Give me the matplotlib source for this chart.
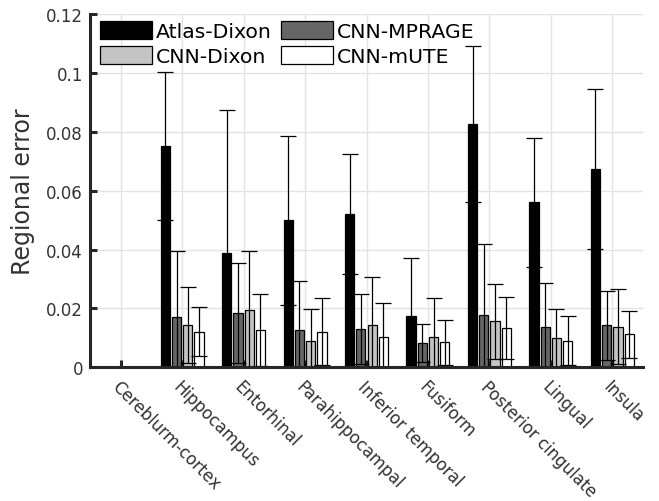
import numpy as np
import matplotlib
matplotlib.use("Agg")
import matplotlib.pyplot as plt
from matplotlib.patches import Patch

# regions and per-method mean / std of regional error
regions = ["Cereblurm-cortex", "Hippocampus", "Entorhinal", "Parahippocampal",
           "Inferior temporal", "Fusiform", "Posterior cingulate", "Lingual", "Insula"]
methods = ["Atlas-Dixon", "CNN-MPRAGE", "CNN-Dixon", "CNN-mUTE"]

atlas_dixon = [0.0, 0.0753, 0.0388, 0.0499, 0.0521, 0.0173, 0.0826, 0.0560, 0.0674]
cnn_mprage = [0.0, 0.0170, 0.0183, 0.0126, 0.0130, 0.0082, 0.0178, 0.0138, 0.0143]
cnn_dixon = [0.0, 0.0144, 0.0195, 0.0090, 0.0144, 0.0103, 0.0156, 0.0098, 0.0138]
cnn_mute = [0.0, 0.0121, 0.0126, 0.0121, 0.0103, 0.0085, 0.0133, 0.0090, 0.0112]

atlas_dixon_sd = [0.0, 0.0251, 0.0486, 0.0288, 0.0204, 0.0197, 0.0266, 0.0218, 0.0271]
cnn_mprage_sd = [0.0, 0.0226, 0.0170, 0.0166, 0.0118, 0.0064, 0.0241, 0.0149, 0.0117]
cnn_dixon_sd = [0.0, 0.0130, 0.0201, 0.0108, 0.0164, 0.0131, 0.0128, 0.0101, 0.0127]
cnn_mute_sd = [0.0, 0.0083, 0.0122, 0.0113, 0.0114, 0.0076, 0.0106, 0.0083, 0.0079]

yticks = [0, 0.02, 0.04, 0.06, 0.08, 0.1, 0.12]
ytick_labels = ["0", "0.02", "0.04", "0.06", "0.08", "0.1", "0.12"]

means = [atlas_dixon, cnn_mprage, cnn_dixon, cnn_mute]
sds = [atlas_dixon_sd, cnn_mprage_sd, cnn_dixon_sd, cnn_mute_sd]
colors = ["#000000", "#666666", "#c4c4c4", "#ffffff"]

dark = "#262626"
plt.rcParams["font.family"] = "DejaVu Sans"

fig = plt.figure(figsize=(6.59, 5.02), dpi=100)
ax = fig.add_axes([90 / 659, 1 - 368.3 / 502, 553 / 659, 353.3 / 502])

x = np.arange(1, len(regions) + 1)
slot = 0.183
width = 0.15
for i in range(4):
    pos = x + (i - 1.5) * slot
    # no edge on zero-height bars (cortex is the reference region)
    lw = [0.9 if m > 0 else 0 for m in means[i]]
    ax.bar(pos, means[i], width, color=colors[i], edgecolor="black",
           linewidth=lw, zorder=2)
    ax.errorbar(pos, means[i], yerr=sds[i], fmt="none", ecolor="black",
                elinewidth=0.9, capsize=6, capthick=0.9, zorder=3)

ax.set_xlim(0.5, 9.5)
ax.set_ylim(0, 0.12)
ax.set_yticks(yticks)
ax.set_yticklabels(ytick_labels)
ax.set_xticks(x)
ax.set_xticklabels(regions, rotation=-45, ha="left", va="top",
                   rotation_mode="anchor")

ax.set_axisbelow(True)
ax.grid(True, color="#e3e3e3", linewidth=1.0)

for s in ["top", "right"]:
    ax.spines[s].set_visible(False)
for s in ["left", "bottom"]:
    ax.spines[s].set_linewidth(2.2)
    ax.spines[s].set_color(dark)
    ax.spines[s].set_zorder(4)

ax.tick_params(axis="both", direction="in", colors=dark, labelsize=12,
               width=2.2, length=5)
ax.tick_params(axis="y", pad=5)
ax.tick_params(axis="x", pad=7)
for lbl in ax.get_xticklabels() + ax.get_yticklabels():
    lbl.set_color("#333333")

ax.set_ylabel("Regional error", fontsize=17, color="#333333", labelpad=8)

# row-wise legend order like the original
order = [0, 2, 1, 3]
handles = [Patch(facecolor=colors[k], edgecolor="black", linewidth=0.9) for k in order]
ax.legend(handles, [methods[k] for k in order],
          loc="upper left", bbox_to_anchor=(0.018, 0.981), ncol=2,
          frameon=False, fontsize=14.7, borderpad=0, borderaxespad=0,
          handlelength=2.55, handleheight=1.0, handletextpad=0.2,
          columnspacing=0.45, labelspacing=0.26)

fig.savefig("out.png", dpi=100)
